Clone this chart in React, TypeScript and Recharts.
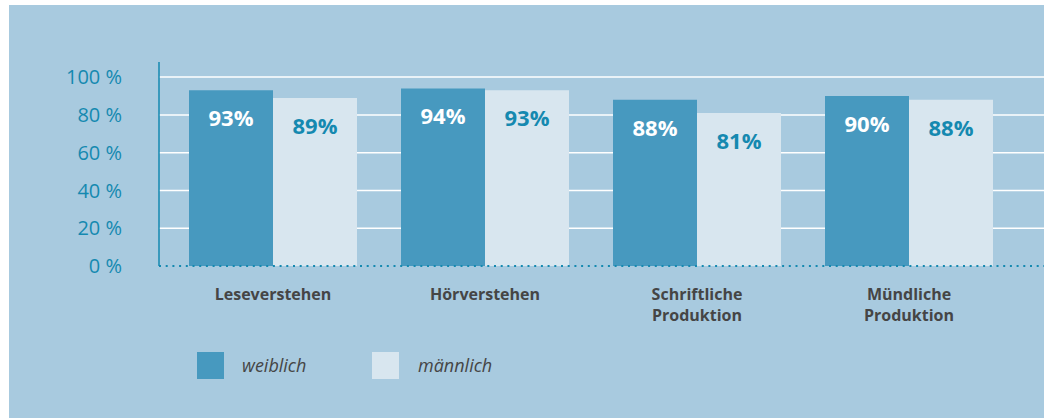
import { BarChart, Bar, XAxis, YAxis, CartesianGrid, Legend, LabelList } from 'recharts';

const categories = ['Leseverstehen', 'Hörverstehen', 'Schriftliche\nProduktion', 'Mündliche\nProduktion'];
const weiblich = [93, 94, 88, 90];
const maennlich = [89, 93, 81, 88];
const yTicks = [0, 20, 40, 60, 80, 100];

const data = categories.map((name, i) => ({ name, weiblich: weiblich[i], maennlich: maennlich[i] }));

const BG = '#a8cadf';
const DARK = '#4799bf';
const LIGHT = '#d8e6ef';
const TEAL = '#1589b0';
const GREY = '#454545';
const FONT = '"Open Sans", sans-serif';

const CategoryTick = ({ x, y, payload }: any) => {
  const lines = String(payload.value).split('\n');
  return (
    <g transform={`translate(${x},${y})`}>
      <text textAnchor="middle" fill={GREY} fontFamily={FONT} fontWeight={700} fontSize={16}>
        {lines.map((l, i) => (
          <tspan key={i} x={0} dy={i === 0 ? 34 : 21}>
            {l}
          </tspan>
        ))}
      </text>
    </g>
  );
};

const makeLabel = (color: string) => (props: any) => {
  const { x, y, width, value } = props;
  return (
    <text
      x={x + width / 2}
      y={y + 27}
      textAnchor="middle"
      dominantBaseline="central"
      fill={color}
      fontFamily={FONT}
      fontWeight={700}
      fontSize={22}
    >
      {value}%
    </text>
  );
};

const LegendContent = () => (
  <div style={{ height: 64, position: 'relative', fontFamily: FONT, fontSize: 18, fontStyle: 'italic', color: GREY }}>
    <div style={{ position: 'absolute', left: 188, top: 26, width: 27, height: 27, background: DARK }} />
    <div style={{ position: 'absolute', left: 233, top: 27 }}>weiblich</div>
    <div style={{ position: 'absolute', left: 363, top: 26, width: 27, height: 27, background: LIGHT }} />
    <div style={{ position: 'absolute', left: 409, top: 27 }}>männlich</div>
  </div>
);

export default function App() {
  return (
    <div style={{ position: 'absolute', left: 9, top: 5, width: 1035, height: 413, background: BG }}>
      <BarChart
        width={1035}
        height={413}
        data={data}
        margin={{ top: 57, right: 0, left: 0, bottom: 28 }}
        barCategoryGap={22}
        barGap={0}
      >
        <CartesianGrid horizontal vertical={false} stroke="#ffffff" strokeWidth={1.5} horizontalValues={[20, 40, 60, 80, 100]} />
        <XAxis
          dataKey="name"
          padding={{ left: 8, right: 29 }}
          axisLine={{ stroke: TEAL, strokeWidth: 2, strokeDasharray: '2 4.7' }}
          tickLine={false}
          tickSize={0}
          tickMargin={0}
          height={60}
          interval={0}
          tick={<CategoryTick />}
        />
        <YAxis
          domain={[0, 108]}
          ticks={yTicks}
          width={150}
          axisLine={{ stroke: TEAL, strokeWidth: 1.5 }}
          tickLine={false}
          tickSize={0}
          tickMargin={37}
          tickFormatter={(v: number) => `${v} %`}
          tick={{ fill: TEAL, fontFamily: FONT, fontSize: 20, fontWeight: 400 }}
          allowDataOverflow
        />
        <Legend verticalAlign="bottom" content={<LegendContent />} />
        <Bar dataKey="weiblich" fill={DARK} isAnimationActive={false}>
          <LabelList dataKey="weiblich" content={makeLabel('#ffffff')} />
        </Bar>
        <Bar dataKey="maennlich" fill={LIGHT} isAnimationActive={false}>
          <LabelList dataKey="maennlich" content={makeLabel(TEAL)} />
        </Bar>
      </BarChart>
    </div>
  );
}
